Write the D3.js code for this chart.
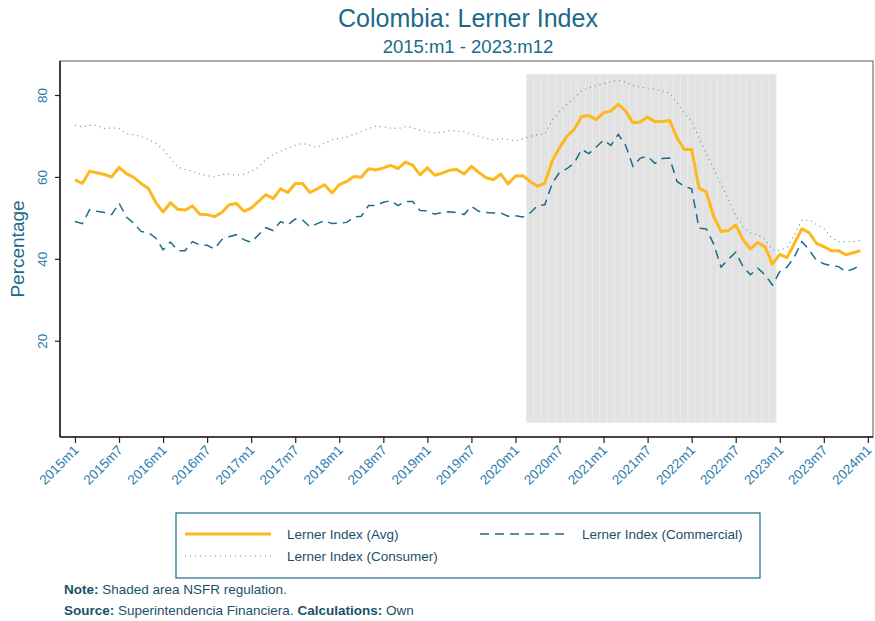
<!DOCTYPE html>
<html>
<head>
<meta charset="utf-8">
<script src="https://cdn.jsdelivr.net/npm/d3@7"></script>
<style>
  body { margin: 0; background: #fff; }
  svg { font-family: "Liberation Sans", Arial, sans-serif; }
</style>
</head>
<body>
<script>
// Lerner index, monthly 2015m1 - 2023m12
var avg = [59.3,58.4,61.4,61.0,60.6,60.0,62.3,60.8,59.9,58.4,57.2,53.8,
  51.4,53.7,52.1,51.9,52.9,50.9,50.8,50.3,51.3,53.2,53.5,51.6,
  52.4,54.0,55.7,54.7,57.1,56.2,58.4,58.4,56.2,57.1,58.1,56.1,
  58.1,58.9,60.1,59.9,62.0,61.7,62.2,62.8,62.0,63.6,62.9,60.5,
  62.2,60.4,60.9,61.6,61.8,60.7,62.6,61.1,59.8,59.3,60.7,58.3,
  60.2,60.3,58.9,57.7,58.5,63.9,67.1,69.9,71.6,74.7,75.0,74.0,
  75.7,76.1,77.7,76.1,73.2,73.4,74.6,73.5,73.5,73.8,69.5,66.7,
  66.7,57.3,56.3,50.4,46.7,46.9,48.3,44.7,42.4,44.0,42.9,38.7,
  41.1,40.3,43.8,47.3,46.4,43.8,43.0,42.0,42.0,41.0,41.5,42.0];

var commercial = [49.1,48.6,52.0,51.6,51.3,50.8,53.6,50.2,48.7,46.7,46.4,45.1,
  42.2,44.1,42.0,42.0,44.2,43.4,43.3,42.4,44.7,45.4,45.9,44.7,
  44.0,45.9,47.6,46.9,49.1,48.3,49.7,49.5,47.8,48.6,49.3,48.6,
  48.7,48.9,50.2,50.4,53.0,53.0,53.8,54.2,53.0,54.0,54.0,51.8,
  51.7,50.9,51.3,51.5,51.3,50.8,52.8,51.6,51.3,51.2,51.2,50.4,
  50.5,50.2,51.2,53.0,53.2,58.4,61.1,62.0,63.4,66.7,65.7,67.3,
  69.0,67.7,70.4,67.7,62.6,64.6,65.0,63.3,64.5,64.6,58.9,57.7,
  57.1,47.5,47.3,43.6,38.0,39.9,41.6,38.1,36.1,37.7,36.1,33.6,
  36.9,38.0,40.5,44.2,42.2,39.6,38.8,38.3,38.1,36.9,37.5,38.5];

var consumer = [72.6,72.2,72.6,72.6,71.8,72.0,71.8,70.6,70.3,69.9,69.1,68.2,
  66.7,64.6,62.4,61.8,61.4,60.7,60.3,60.0,60.6,60.7,60.4,60.7,
  61.3,62.4,64.2,65.4,66.3,67.0,67.7,68.2,67.7,67.2,68.3,69.0,
  69.4,69.7,70.4,71.0,71.8,72.4,72.2,71.9,71.8,72.3,72.0,71.4,
  71.0,70.8,70.9,71.3,71.2,71.0,70.5,69.9,69.4,69.0,69.4,69.1,
  68.8,69.3,69.9,70.3,70.5,73.8,75.9,77.7,79.3,81.0,81.8,82.3,
  82.8,83.2,83.6,83.1,82.3,81.9,81.7,81.4,81.0,80.4,78.1,75.5,
  73.6,69.5,65.7,62.0,58.1,54.6,50.5,47.8,46.3,45.9,44.7,42.2,
  42.0,42.8,45.9,49.4,49.5,48.4,47.4,45.3,44.2,44.2,44.2,44.5];

// NSFR regulation period (shaded bars)
var nsfrStart = 62,   // 2020m3
    nsfrEnd = 95,     // 2022m12
    nsfrLevel = 85;

var startYear = 2015;
var yTicks = [20, 40, 60, 80];
var xTicks = d3.range(0, 109, 6);   // every 6 months, 2015m1 .. 2024m1

var legendItems = [
  {name: "Lerner Index (Avg)", key: "avg"},
  {name: "Lerner Index (Commercial)", key: "com"},
  {name: "Lerner Index (Consumer)", key: "con"}
];

var titleCol = "#1a6a8a",
    tickCol = "#2a7cad",
    textCol = "#1b4f69",
    avgCol = "#fdb81e",
    comCol = "#1d6b8a",
    conCol = "#4a9cb6";

function monthLabel(i) {
  return (startYear + Math.floor(i / 12)) + "m" + (i % 12 + 1);
}

var W = 875, H = 621;
var plot = {left: 60, right: 873, top: 61, bottom: 437};

var svg = d3.select("body").append("svg")
  .attr("width", W).attr("height", H);

var x = d3.scaleLinear().domain([-2.04, 108.7]).range([plot.left, plot.right]);
var y = d3.scaleLinear().domain([-3.5, 88.3]).range([plot.bottom, plot.top]);

// titles
svg.append("text")
  .attr("x", 468).attr("y", 27)
  .attr("text-anchor", "middle")
  .style("font-size", "25px").style("fill", titleCol)
  .text("Colombia: Lerner Index");

svg.append("text")
  .attr("x", 468).attr("y", 53)
  .attr("text-anchor", "middle")
  .style("font-size", "18.5px").style("fill", titleCol)
  .text("2015:m1 - 2023:m12");

// shaded area, one bar per month
var months = d3.range(nsfrStart, nsfrEnd + 1);
svg.append("g").selectAll("rect")
  .data(months)
  .enter().append("rect")
  .attr("x", d => x(d - 0.5))
  .attr("width", d => x(d + 0.5) - x(d - 0.5))
  .attr("y", y(nsfrLevel))
  .attr("height", y(0) - y(nsfrLevel))
  .attr("fill", "#e2e2e2")
  .attr("stroke", "#ebebeb")
  .attr("stroke-width", 0.8);

// lines
var line = d3.line()
  .x((d, i) => x(i))
  .y(d => y(d));

svg.append("path")
  .attr("d", line(consumer))
  .attr("fill", "none")
  .attr("stroke", conCol)
  .attr("stroke-width", 1.2)
  .attr("stroke-dasharray", "1,4");

svg.append("path")
  .attr("d", line(commercial))
  .attr("fill", "none")
  .attr("stroke", comCol)
  .attr("stroke-width", 1.5)
  .attr("stroke-dasharray", "9,6");

svg.append("path")
  .attr("d", line(avg))
  .attr("fill", "none")
  .attr("stroke", avgCol)
  .attr("stroke-width", 3)
  .attr("stroke-linejoin", "round");

// plot frame
svg.append("rect")
  .attr("x", plot.left).attr("y", plot.top)
  .attr("width", plot.right - plot.left)
  .attr("height", plot.bottom - plot.top)
  .attr("fill", "none")
  .attr("stroke", "#555")
  .attr("stroke-width", 1);

// y axis
var yAxis = svg.append("g")
  .attr("transform", "translate(" + plot.left + ",0)")
  .call(d3.axisLeft(y).tickValues(yTicks).tickSize(5).tickSizeOuter(0));
yAxis.select(".domain").attr("stroke", "#222").attr("stroke-width", 1.6)
  .attr("d", "M0," + plot.top + "V" + plot.bottom);
yAxis.selectAll(".tick line").attr("stroke", "#222").attr("stroke-width", 1.2);
yAxis.selectAll(".tick text")
  .attr("x", 0).attr("dy", 0)
  .attr("transform", "translate(-13,0) rotate(-90)")
  .attr("text-anchor", "middle")
  .style("font-size", "13.5px").style("fill", tickCol);

svg.append("text")
  .attr("transform", "translate(24," + ((plot.top + plot.bottom) / 2) + ") rotate(-90)")
  .attr("text-anchor", "middle")
  .style("font-size", "19px").style("fill", titleCol)
  .text("Percentage");

// x axis
var xAxis = svg.append("g")
  .attr("transform", "translate(0," + plot.bottom + ")")
  .call(d3.axisBottom(x).tickValues(xTicks).tickFormat(monthLabel).tickSize(6).tickSizeOuter(0));
xAxis.select(".domain").attr("stroke", "#222").attr("stroke-width", 1.6)
  .attr("d", "M" + plot.left + ",0H" + plot.right);
xAxis.selectAll(".tick line").attr("stroke", "#222").attr("stroke-width", 1.2);
xAxis.selectAll(".tick text")
  .attr("y", 0).attr("dy", 0)
  .attr("transform", "translate(4,14) rotate(-45)")
  .attr("text-anchor", "end")
  .style("font-size", "13.5px").style("fill", tickCol);

// legend
var lg = svg.append("g");
lg.append("rect")
  .attr("x", 176).attr("y", 513)
  .attr("width", 584).attr("height", 65)
  .attr("fill", "#fff")
  .attr("stroke", comCol).attr("stroke-width", 1.2);

var legendPos = [[185, 534], [480, 534], [185, 556]];
var legendStyle = {
  avg: {col: avgCol, w: 3, dash: null},
  com: {col: comCol, w: 1.5, dash: "9,6"},
  con: {col: conCol, w: 1, dash: "1,4"}
};
legendItems.forEach((it, k) => {
  var p = legendPos[k], s = legendStyle[it.key];
  lg.append("line")
    .attr("x1", p[0]).attr("x2", p[0] + 86)
    .attr("y1", p[1]).attr("y2", p[1])
    .attr("stroke", s.col).attr("stroke-width", s.w)
    .attr("stroke-dasharray", s.dash);
  lg.append("text")
    .attr("x", p[0] + 102).attr("y", p[1] + 5)
    .style("font-size", "13.5px").style("fill", textCol)
    .text(it.name);
});

// notes
var note = svg.append("text")
  .attr("x", 64).attr("y", 594)
  .style("font-size", "13.5px").style("fill", textCol);
note.append("tspan").style("font-weight", "bold").text("Note:");
note.append("tspan").text(" Shaded area NSFR regulation.");

var src = svg.append("text")
  .attr("x", 64).attr("y", 615)
  .style("font-size", "13.5px").style("fill", textCol);
src.append("tspan").style("font-weight", "bold").text("Source:");
src.append("tspan").text(" Superintendencia Financiera. ");
src.append("tspan").style("font-weight", "bold").text("Calculations:");
src.append("tspan").text(" Own");
</script>
</body>
</html>
